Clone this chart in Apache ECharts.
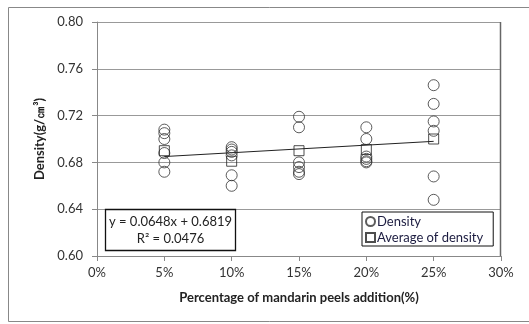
<!DOCTYPE html>
<html>
<head>
<meta charset="utf-8">
<script src="https://cdn.jsdelivr.net/npm/echarts@6/dist/echarts.min.js"></script>
<style>html,body{margin:0;padding:0;background:#fff;}#c{width:529px;height:324px;}</style>
</head>
<body>
<div id="c"></div>
<script>
// ---- data ----
const additionLevels = [0.05, 0.10, 0.15, 0.20, 0.25];
const density5  = [0.708, 0.705, 0.700, 0.688, 0.680, 0.672];
const density10 = [0.693, 0.691, 0.689, 0.686, 0.669, 0.660];
const density15 = [0.719, 0.710, 0.680, 0.676, 0.672, 0.670];
const density20 = [0.710, 0.700, 0.685, 0.683, 0.681, 0.680];
const density25 = [0.746, 0.730, 0.715, 0.707, 0.668, 0.648];
const avgDensity = [0.690, 0.681, 0.690, 0.691, 0.700];
const trendX = [0.05, 0.25];
const trendY = [0.685, 0.698];
const xTicks = [0, 0.05, 0.10, 0.15, 0.20, 0.25, 0.30];
const yTicks = [0.60, 0.64, 0.68, 0.72, 0.76, 0.80];
const equationText = 'y = 0.0648x + 0.6819';
const r2Text = 'R² = 0.0476';

const groups = [density5, density10, density15, density20, density25];
const densityPts = [];
groups.forEach((g, i) => g.forEach(v => densityPts.push([additionLevels[i], v])));
const avgPts = additionLevels.map((x, i) => [x, avgDensity[i]]);
const trendPts = trendX.map((x, i) => [x, trendY[i]]);

const FONT = 'Lato';
const chart = echarts.init(document.getElementById('c'));
chart.setOption({
  animation: false,
  backgroundColor: '#fff',
  grid: { left: 97, right: 28, top: 22, bottom: 68, show: false },
  xAxis: {
    type: 'value', min: 0, max: 0.30, interval: 0.05,
    name: 'Percentage of mandarin peels addition(%)',
    nameLocation: 'middle', nameGap: 35,
    nameTextStyle: { fontFamily: FONT, fontSize: 13, fontWeight: 'bold', color: '#222' },
    axisLine: { show: true, lineStyle: { color: '#888', width: 1 } },
    axisTick: { show: true, length: 5, inside: false, lineStyle: { color: '#888' } },
    axisLabel: { fontFamily: FONT, fontSize: 13, color: '#333', margin: 10,
      formatter: v => Math.round(v * 100) + '%' },
    splitLine: { show: false }
  },
  yAxis: {
    type: 'value', min: 0.60, max: 0.80, interval: 0.04,
    name: 'Density(g/㎝³)',
    nameLocation: 'middle', nameGap: 51, nameRotate: 90,
    nameTextStyle: { fontFamily: FONT, fontSize: 13, fontWeight: 'bold', color: '#222' },
    axisLine: { show: true, lineStyle: { color: '#888', width: 1 } },
    axisTick: { show: true, length: 5, lineStyle: { color: '#888' } },
    axisLabel: { fontFamily: FONT, fontSize: 13, color: '#333', margin: 14,
      formatter: v => v.toFixed(2) },
    splitLine: { show: true, lineStyle: { color: '#999', width: 1 } }
  },
  legend: {
    orient: 'vertical', left: 362, top: 212,
    data: [
      { name: 'Density', icon: 'circle' },
      { name: 'Average of density', icon: 'rect' }
    ],
    backgroundColor: '#fff', borderColor: '#111', borderWidth: 1,
    padding: [3, 10, 2, 3], itemGap: 3, itemWidth: 9, itemHeight: 9,
    textStyle: { fontFamily: FONT, fontSize: 13, color: '#1c1c40', padding: [0, 0, 0, -3] }
  },
  graphic: [
    { type: 'rect', z: 100, shape: { x: 105.5, y: 209.5, width: 130, height: 41 },
      style: { fill: '#fff', stroke: '#111', lineWidth: 1.3 } },
    { type: 'text', z: 101, style: { x: 170.5, y: 222, text: equationText, align: 'center', verticalAlign: 'middle',
      font: '13px ' + FONT, fill: '#222' } },
    { type: 'text', z: 101, style: { x: 170.5, y: 239, text: r2Text, align: 'center', verticalAlign: 'middle',
      font: '13px ' + FONT, fill: '#222' } },
    { type: 'line', z: 50, shape: { x1: 500.5, y1: 22, x2: 500.5, y2: 256 },
      style: { stroke: '#666', lineWidth: 1.5 } },
    { type: 'rect', z: 0, shape: { x: 8.5, y: 7.5, width: 540, height: 314 },
      style: { fill: 'none', stroke: '#888', lineWidth: 1 } }
  ],
  series: [
    { name: 'Trend', type: 'line', data: trendPts, symbol: 'none',
      lineStyle: { color: '#222', width: 1 }, z: 2, silent: true },
    { name: 'Density', type: 'scatter', data: densityPts, symbol: 'circle', symbolSize: 11,
      itemStyle: { color: 'rgba(0,0,0,0)', borderColor: '#333', borderWidth: 1 }, z: 3 },
    { name: 'Average of density', type: 'scatter', data: avgPts, symbol: 'rect', symbolSize: 10,
      itemStyle: { color: 'rgba(0,0,0,0)', borderColor: '#222', borderWidth: 1 }, z: 4 }
  ]
});
</script>
</body>
</html>
